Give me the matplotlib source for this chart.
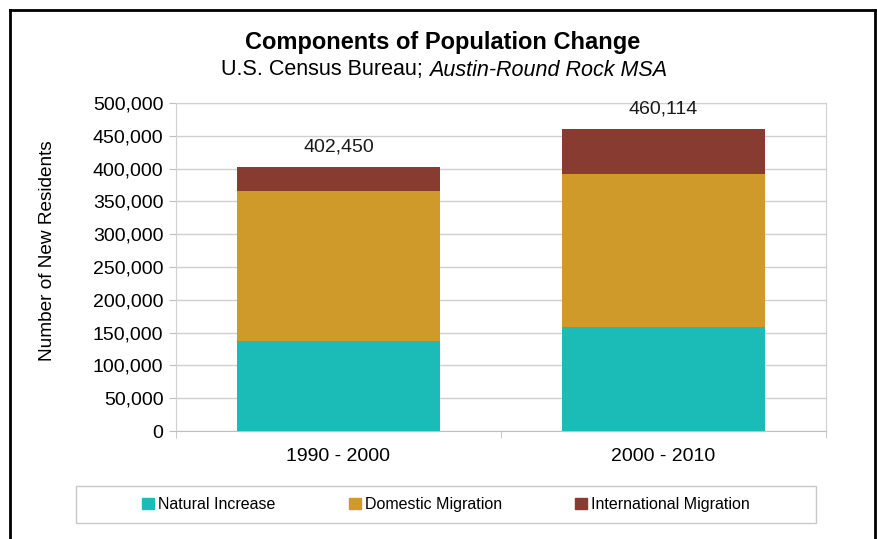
import matplotlib
matplotlib.use("Agg")
from matplotlib import pyplot as plt
from matplotlib.lines import Line2D
from matplotlib.patches import Patch, Rectangle
import numpy as np

plt.rcParams['font.family'] = ['Liberation Sans', 'DejaVu Sans']

periods = ['1990 - 2000', '2000 - 2010']
natural = [136500, 158000]
domestic = [229000, 234000]
international = [36950, 68114]
totals = [402450, 460114]
series_names = ['Natural Increase', 'Domestic Migration', 'International Migration']
colors = ['#1BBBB7', '#D09A2A', '#873B31']

fig = plt.figure(figsize=(8.77, 5.39), dpi=100)
ax = fig.add_axes([176/877, 1-431/539, 650/877, 328/539])

x = np.arange(len(periods))
ax.bar(x, natural, width=0.625, color=colors[0], zorder=3)
ax.bar(x, domestic, width=0.625, bottom=natural, color=colors[1], zorder=3)
bottom2 = np.array(natural) + np.array(domestic)
ax.bar(x, international, width=0.625, bottom=bottom2, color=colors[2], zorder=3)

for xi, t in zip(x, totals):
    ax.text(xi, t + 31000, f'{t:,}', ha='center', va='center', fontsize=14, color='#1a1a1a')

ax.set_xlim(-0.5, 1.5)
ax.set_ylim(0, 500000)
ax.set_yticks(np.arange(0, 500001, 50000))
ax.set_yticklabels([f'{v:,}' for v in range(0, 500001, 50000)], fontsize=14)
ax.set_xticks(x)
ax.set_xticklabels(periods, fontsize=14)
ax.set_xticks([-0.5, 0.5, 1.5], minor=True)
ax.tick_params(axis='x', which='major', length=0, pad=12)
ax.tick_params(axis='x', which='minor', length=5, color='#BFBFBF', direction='out')
ax.tick_params(axis='y', length=5, color='#BFBFBF', pad=4)
ax.grid(axis='y', color='#D0D0D0', linewidth=1, zorder=0)
for s in ['top', 'bottom', 'left', 'right']:
    ax.spines[s].set_color('#D0D0D0')
ax.spines['bottom'].set_color('#BFBFBF')

ax.set_ylabel('Number of New Residents', fontsize=13.7)
ax.yaxis.set_label_coords((56-176)/650, (431-251)/328)

fig.text(443/877, 1-43/539, 'Components of Population Change', ha='center', va='center',
         fontsize=17, fontweight='bold')
fig.text(429/877, 1-70/539, 'U.S. Census Bureau; ', ha='right', va='center', fontsize=15.5)
fig.text(429/877, 1-70/539, 'Austin-Round Rock MSA', ha='left', va='center', fontsize=15.5,
         style='italic')

# legend box
fig.add_artist(Rectangle((76/877, 1-523/539), 740/877, 37/539, transform=fig.transFigure,
                         fill=False, edgecolor='#C8C8C8', linewidth=1))
handles = [Patch(color=c) for c in colors]
leg = fig.legend(handles, series_names, loc='center', ncol=3,
                 bbox_to_anchor=(446/877, 1-504.5/539),
                 fontsize=11.5, frameon=False,
                 handlelength=0.75, handleheight=0.75, handletextpad=0.25,
                 columnspacing=4.6)

# outer frame
fig.add_artist(Line2D([10/877, 10/877], [0, 1-10/539], color='black', linewidth=2))
fig.add_artist(Line2D([10/877, 875/877], [1-10/539, 1-10/539], color='black', linewidth=2))
fig.add_artist(Line2D([875/877, 875/877], [0, 1-10/539], color='black', linewidth=2))

plt.savefig('out.png', dpi=100)
